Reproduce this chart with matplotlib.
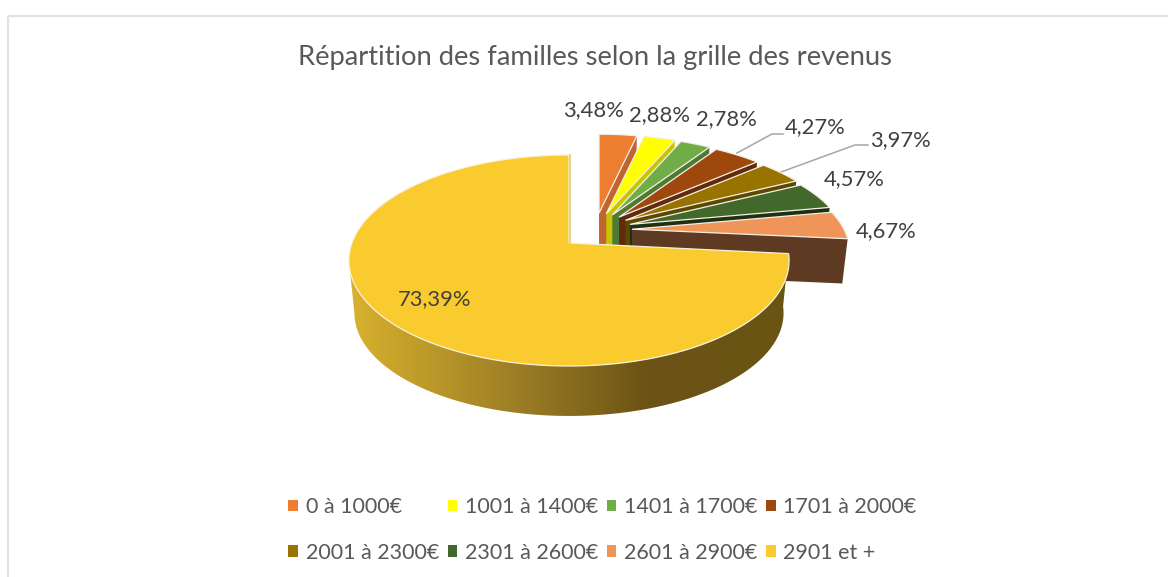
import numpy as np
import matplotlib
matplotlib.use('Agg')
import matplotlib.pyplot as plt
from matplotlib.colors import LinearSegmentedColormap
from matplotlib.patches import Patch, Polygon

# donnees
categories = ['0 à 1000€', '1001 à 1400€', '1401 à 1700€', '1701 à 2000€',
              '2001 à 2300€', '2301 à 2600€', '2601 à 2900€', '2901 et +']
values = [3.48, 2.88, 2.78, 4.27, 3.97, 4.57, 4.67, 73.39]
labels = ['3,48%', '2,88%', '2,78%', '4,27%', '3,97%', '4,57%', '4,67%', '73,39%']

colors = ['#ED7D31', '#FFFF00', '#70AD47', '#9E480E', '#997300', '#43682B', '#EF955A', '#FACB2E']
side_colors = ['#C0652D', '#C8C400', '#4F7A33', '#5F2B0C', '#5D4800', '#1F3012', '#5E3A22', '#6A5515']
label_pos = [(594, 110), (660, 115), (726, 119), (815, 127), (900, 140), (854, 179), (886, 231), (435, 299)]

plt.rcParams['font.family'] = ['Lato', 'DejaVu Sans']

fig = plt.figure(figsize=(11.68, 5.77), dpi=100)
ax = fig.add_axes([0, 0, 1, 1])
ax.set_xlim(0, 1168)
ax.set_ylim(577, 0)
ax.axis('off')

edges = np.cumsum([0] + values) / sum(values) * 2 * np.pi


def project(apex, theta, rx, ry, scale=1.0, drop=0.0, tilt_x=0.166, tilt_y=0.166):
    # disque vu en perspective, theta compte depuis midi dans le sens horaire
    x = apex[0] + scale * rx * np.sin(theta) / (1 + tilt_x * np.cos(theta))
    y = apex[1] - scale * ry * np.cos(theta) / (1 + tilt_y * np.cos(theta)) + drop
    return x, y


# parts detachees, de l'arriere vers l'avant
for i in range(7):
    t0, t1 = edges[i], edges[i + 1]
    mid = (t0 + t1) / 2
    apex = (595 + 37 * np.sin(mid), 230 - 17 * np.cos(mid))
    rx, ry = 212, 92
    xe, ye = project(apex, t1, rx, ry, tilt_x=0.22)
    xb, yb = project(apex, t1, rx, ry, 0.975, 45, tilt_x=0.22)
    ax.add_patch(Polygon([apex, (xe, ye), (xb, yb), (apex[0], apex[1] + 45)],
                         closed=True, fc=side_colors[i], ec='none', zorder=2 + i))
    th = np.linspace(t0, t1, 40)
    xs, ys = project(apex, th, rx, ry, tilt_x=0.22)
    pts = [apex] + list(zip(xs, ys))
    ax.add_patch(Polygon(pts, closed=True, fc=colors[i], ec='#F4EFE6', lw=0.9, zorder=2 + i))

# grande part
apex = (569, 243)
rx, ry = 217, 102.6
t0, t1 = edges[7], edges[8]
th = np.linspace(t0, t1, 361)
xt, yt = project(apex, th, rx, ry)
xb, yb = project(apex, th, rx, ry, 0.975, 53)

# flanc en degrade, seulement la partie avant jusqu'au bord gauche
side_cmap = LinearSegmentedColormap.from_list(
    'side', [(0, '#D9B22E'), (0.40, '#9A7C25'), (0.68, '#6B5314'), (1, '#6A5515')])
side_img = ax.imshow(np.linspace(0, 1, 256).reshape(1, -1), cmap=side_cmap, aspect='auto',
                     extent=(347, 788, 420, 240), zorder=10)
nt = np.argmin(xt) + 1
nb = np.argmin(xb) + 1
side_shape = Polygon(list(zip(xt[:nt], yt[:nt])) + list(zip(xb[:nb][::-1], yb[:nb][::-1])), closed=True,
                     transform=ax.transData, fc='none', ec='none')
ax.add_patch(side_shape)
side_img.set_clip_path(side_shape)
ax.set_xlim(0, 1168)
ax.set_ylim(577, 0)

ax.add_patch(Polygon([apex] + list(zip(xt, yt)), closed=True, fc=colors[7], ec='#F7F1DC', lw=0.9, zorder=11))
ax.plot([xt[-1] + 1, apex[0] + 1], [yt[-1], apex[1]], color='#E4D48C', lw=1.4, zorder=11)

# traits de rappel
ax.plot([737, 772, 783], [153, 134, 134], color='#A6A6A6', lw=1.1, zorder=1)
ax.plot([781, 855, 868], [172, 145, 145], color='#A6A6A6', lw=1.1, zorder=1)

for txt, (x, y) in zip(labels, label_pos):
    ax.text(x, y, txt, fontsize=15.8, color='#404040', ha='center', va='center', zorder=20)

ax.text(595, 57, 'Répartition des familles selon la grille des revenus',
        fontsize=19.7, color='#595959', ha='center', va='center')

# cadre
ax.plot([8, 8], [577, 16], color='#E2E2E2', lw=1.6, solid_capstyle='butt')
ax.plot([8, 1168], [16, 16], color='#E2E2E2', lw=1.6, solid_capstyle='butt')

# legende sur deux lignes, remplie par colonnes
order = [0, 4, 1, 5, 2, 6, 3, 7]
handles = [Patch(fc=colors[i], ec='none') for i in order]
leg = ax.legend(handles, [categories[i] for i in order], ncol=4, frameon=False,
                loc='center', bbox_to_anchor=(602.5 / 1168, 1 - 530 / 577),
                fontsize=15.5, labelcolor='#595959', handlelength=0.45, handleheight=0.45,
                handletextpad=0.36, columnspacing=0.39, labelspacing=1.18, borderpad=0)

fig.savefig('out.png', dpi=100)
